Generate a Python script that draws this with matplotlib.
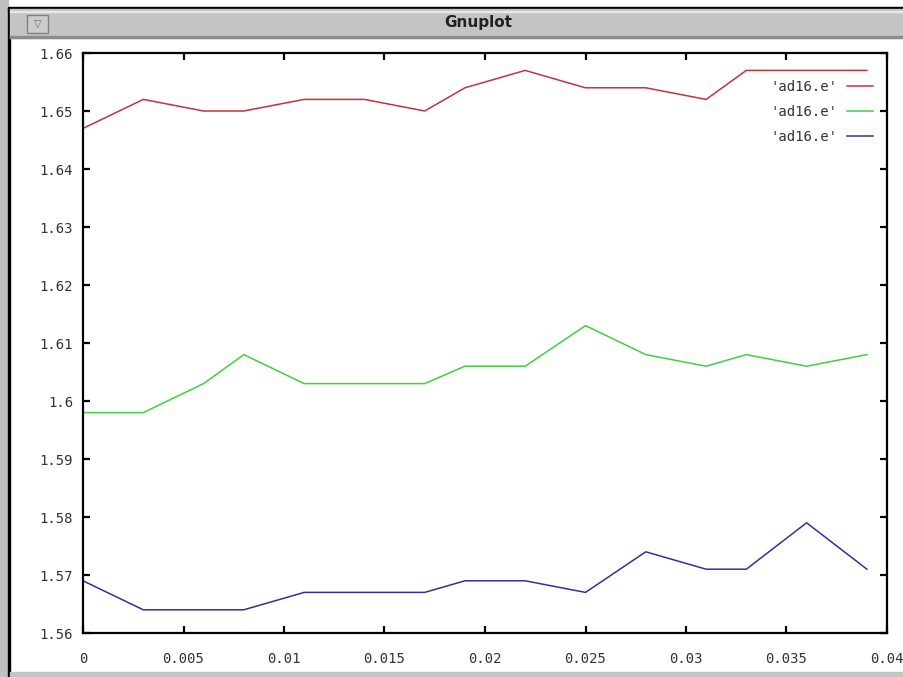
import matplotlib
matplotlib.use('Agg')
import matplotlib.pyplot as plt
from matplotlib.patches import Rectangle

# sample positions and the three 'ad16.e' columns
x = [0, 0.003, 0.006, 0.008, 0.011, 0.014, 0.017, 0.019,
     0.022, 0.025, 0.028, 0.031, 0.033, 0.036, 0.039]
red = [1.647, 1.652, 1.650, 1.650, 1.652, 1.652, 1.650, 1.654,
       1.657, 1.654, 1.654, 1.652, 1.657, 1.657, 1.657]
green = [1.598, 1.598, 1.603, 1.608, 1.603, 1.603, 1.603, 1.606,
         1.606, 1.613, 1.608, 1.606, 1.608, 1.606, 1.608]
blue = [1.569, 1.564, 1.564, 1.564, 1.567, 1.567, 1.567, 1.569,
        1.569, 1.567, 1.574, 1.571, 1.571, 1.579, 1.571]
labels = ["'ad16.e'", "'ad16.e'", "'ad16.e'"]
colors = ['#c8303c', '#40d040', '#3030a0']

W, H = 904, 677
fig = plt.figure(figsize=(W / 100, H / 100), dpi=100)
fig.patch.set_facecolor('white')


def px(x0, y0, w, h, **kw):
    # rectangle given in pixels from the top-left corner
    fig.patches.append(Rectangle((x0 / W, 1 - (y0 + h) / H), w / W, h / H,
                                 transform=fig.transFigure, figure=fig, **kw))


# window frame
px(0, 0, W, 8, color='white', zorder=0)
px(0, 0, 8, H, color='#c0c0c0', zorder=0)
px(8, 8, 2, H - 8, color='black', zorder=0)
px(8, 7, W - 8, 2, color='black', zorder=0)
px(10, 9, W - 10, 29, color='#c4c4c4', zorder=0)
px(10, 11, W - 10, 1, color='#e8e8e8', zorder=0)
px(10, 36, W - 10, 2, color='#8c8c8c', zorder=0)
px(10, 672, W - 10, 5, color='#c4c4c4', zorder=0)
px(27, 15, 21, 18, facecolor='#cccccc', edgecolor='#808080', lw=1, zorder=1)
fig.text(37.5 / W, 1 - 24 / H, '\u25bd', ha='center', va='center',
         fontsize=7, color='#666666')
fig.text(478 / W, 1 - 23 / H, 'Gnuplot', ha='center', va='center',
         fontsize=11, fontweight='bold', color='#202020')

ax = fig.add_axes([83 / W, 1 - 633 / H, (887 - 83) / W, (633 - 53) / H])
for ys, c, lab in zip([red, green, blue], colors, labels):
    ax.plot(x, ys, color=c, lw=1.1, label=lab)

ax.set_xlim(0, 0.04)
ax.set_ylim(1.56, 1.66)
ax.set_xticks([i * 0.005 for i in range(9)])
ax.set_xticklabels(['0', '0.005', '0.01', '0.015', '0.02', '0.025',
                    '0.03', '0.035', '0.04'])
ax.set_yticks([1.56 + i * 0.01 for i in range(11)])
ax.set_yticklabels(['1.56', '1.57', '1.58', '1.59', '1.6', '1.61',
                    '1.62', '1.63', '1.64', '1.65', '1.66'])
for s in ax.spines.values():
    s.set_linewidth(1.6)
ax.tick_params(direction='in', length=5, width=1.6, top=True, right=True,
               labelsize=10, colors='black')
ax.tick_params(axis='x', pad=14)
ax.tick_params(axis='y', pad=7)
for t in ax.get_xticklabels() + ax.get_yticklabels():
    t.set_family('DejaVu Sans Mono')
    t.set_color('#333333')

leg = ax.legend(loc='upper right', bbox_to_anchor=(1 - 14 / 804, 1 - 27 / 580),
                frameon=False, markerfirst=False, borderaxespad=0, borderpad=0,
                handlelength=1.85, handletextpad=0.72, labelspacing=0.8,
                prop={'family': 'DejaVu Sans Mono', 'size': 10})
for t in leg.get_texts():
    t.set_color('#333333')

fig.savefig('out.png', dpi=100)
